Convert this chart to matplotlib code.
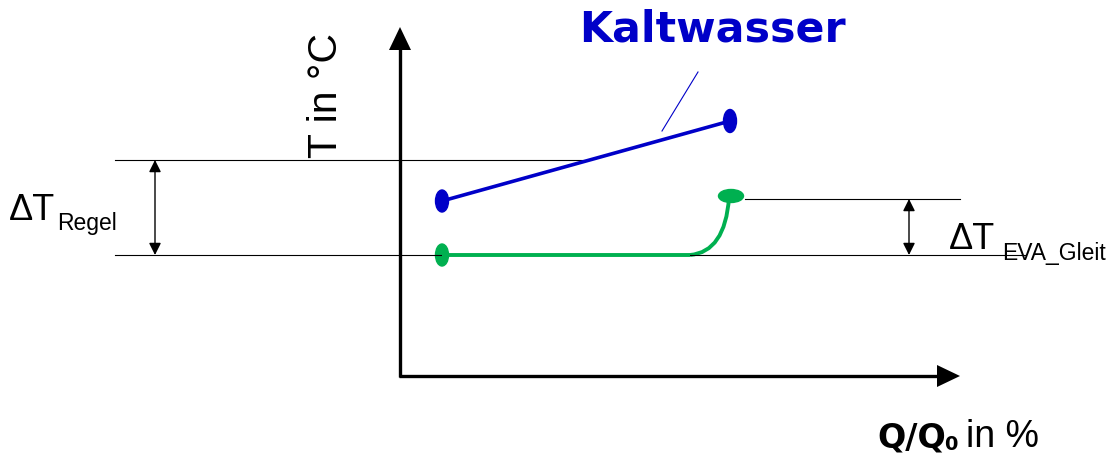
import matplotlib
matplotlib.use("Agg")
import matplotlib.pyplot as plt
from matplotlib.patches import Ellipse, PathPatch
from matplotlib.path import Path

# ---- data (schematic, in drawing units: x to the right, y downward) ----
kalt_x = [442, 730]
kalt_y = [201, 121]
green_flat_x = [442, 690]
green_flat_y = [255, 255]
green_bend = [(690, 255), (725, 252), (729, 198)]   # start, control, end
green_end = (731, 196)
leader_x = [662, 698]
leader_y = [131, 72]
ref_top_y = 160
ref_bot_y = 255
ref_evap_y = 199

BLUE = "#0000C8"
GREEN = "#00B050"

fig = plt.figure(figsize=(11.08, 4.54), dpi=100)
ax = fig.add_axes([0, 0, 1, 1])
ax.set_xlim(0, 1108)
ax.set_ylim(454, 0)
ax.axis("off")

# thin reference lines
ax.plot([115, 588], [ref_top_y, ref_top_y], color="black", lw=0.8)
ax.plot([115, 1025], [ref_bot_y, ref_bot_y], color="black", lw=0.8)
ax.plot([745, 960], [ref_evap_y, ref_evap_y], color="black", lw=0.8)

# double arrows
for xa, y1, y2 in [(155, ref_top_y, ref_bot_y), (909, ref_evap_y, ref_bot_y)]:
    ax.annotate("", xy=(xa, y1), xytext=(xa, y2),
                arrowprops=dict(arrowstyle="<|-|>", color="black", lw=1.0,
                                mutation_scale=18, shrinkA=0, shrinkB=0))

# axes arrows
ax.plot([400, 400], [377, 45], color="black", lw=2.4, solid_capstyle="butt")
ax.plot([399, 942], [376, 376], color="black", lw=2.4, solid_capstyle="butt")
ax.arrow(400, 50, 0, -23, width=0.5, head_width=22, head_length=23,
         length_includes_head=True, color="black", lw=0)
ax.arrow(937, 376, 23, 0, width=0.5, head_width=22, head_length=23,
         length_includes_head=True, color="black", lw=0)

# Kaltwasser line
ax.plot(kalt_x, kalt_y, color=BLUE, lw=2.6, solid_capstyle="butt")
ax.add_patch(Ellipse((kalt_x[0], kalt_y[0]), 13, 22, color=BLUE))
ax.add_patch(Ellipse((kalt_x[1], kalt_y[1]), 13, 23, color=BLUE))
ax.plot(leader_x, leader_y, color=BLUE, lw=0.8)

# evaporation line (green)
ax.plot(green_flat_x, green_flat_y, color=GREEN, lw=2.8, solid_capstyle="butt")
bend = Path(green_bend, [Path.MOVETO, Path.CURVE3, Path.CURVE3])
ax.add_patch(PathPatch(bend, facecolor="none", edgecolor=GREEN, lw=2.8))
ax.add_patch(Ellipse((green_flat_x[0], green_flat_y[0]), 13, 22, color=GREEN))
ax.add_patch(Ellipse(green_end, 25, 13, color=GREEN))

# texts
ax.text(712, 30, "Kaltwasser", color=BLUE, fontsize=30.8, fontweight="bold",
        family="DejaVu Sans", ha="center", va="center")
ax.text(326, 95, "T in °C", rotation=90, fontsize=29.5, family="Liberation Sans",
        ha="center", va="center")

ax.text(9, 220, "ΔT", fontsize=26, family="Liberation Sans", ha="left", va="baseline")
ax.text(57, 230, "Regel", fontsize=16.5, family="Liberation Sans", ha="left", va="baseline")

ax.text(949, 249, "ΔT", fontsize=26, family="Liberation Sans", ha="left", va="baseline")
ax.text(1002, 260, "EVA_Gleit", fontsize=16.5, family="Liberation Sans", ha="left", va="baseline")

ax.text(877, 447, "Q/Q", fontsize=24, fontweight="bold", family="Liberation Sans Narrow",
        ha="left", va="baseline")
ax.text(944, 450, "0", fontsize=14, fontweight="bold", family="Liberation Sans Narrow",
        ha="left", va="baseline")
ax.text(966, 447, "in %", fontsize=27, family="Liberation Sans", ha="left", va="baseline")

fig.savefig("out.png", dpi=100)
